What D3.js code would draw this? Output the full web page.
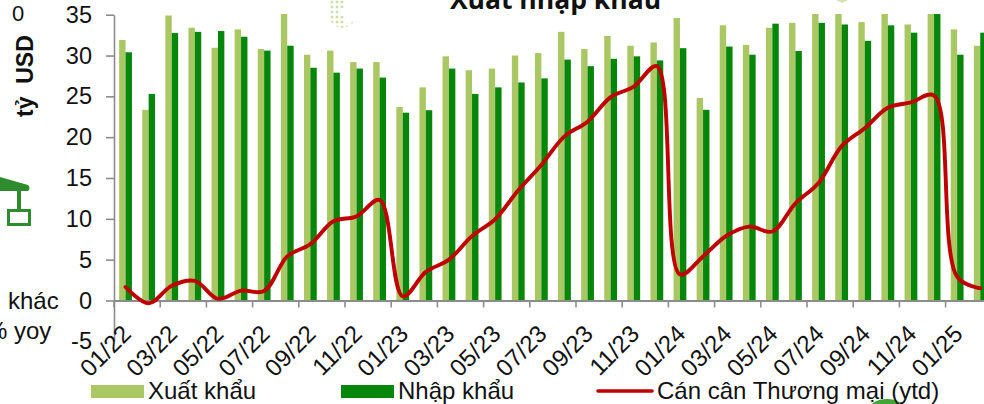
<!DOCTYPE html>
<html><head><meta charset="utf-8">
<script src="https://cdn.jsdelivr.net/npm/d3@7"></script>
<style>
html,body{margin:0;padding:0;background:#fff;overflow:hidden}
svg{display:block}
text{font-family:"Liberation Sans",Arial,sans-serif;fill:#111}
</style></head><body>
<svg id="c" width="984" height="404"></svg>
<script>
const categories=["01/22","02/22","03/22","04/22","05/22","06/22","07/22","08/22","09/22","10/22","11/22","12/22",
"01/23","02/23","03/23","04/23","05/23","06/23","07/23","08/23","09/23","10/23","11/23","12/23",
"01/24","02/24","03/24","04/24","05/24","06/24","07/24","08/24","09/24","10/24","11/24","12/24",
"01/25","02/25"];
const xuatKhau=[31.9,23.35,34.9,33.4,30.95,33.2,30.8,35.3,30.1,30.6,29.2,29.2,
23.7,26.1,29.9,28.2,28.4,30,30.3,32.9,30.8,32.4,31.2,31.6,
34.6,24.8,33.7,31.3,33.4,34,35.3,35.3,34.1,35.3,33.8,35.3,33.2,31.2];
const nhapKhau=[30.4,25.3,32.75,32.9,33,32.3,30.6,31.2,28.5,27.9,28.4,27.3,
23,23.3,28.4,25.3,26.1,26.7,27.2,29.5,28.7,29.6,29.9,29.4,
30.9,23.35,31.1,30.1,33.9,30.55,34,33.8,31.8,33.7,32.8,35.3,30.1,32.8];
const canCan=[1.65,-0.35,1.8,2.4,0.2,1.2,1.15,5.4,6.9,9.7,10.3,12.3,
0.5,3.5,5,7.9,9.95,13.5,16.6,20.1,21.9,24.9,26.2,28.7,
3.2,5.4,7.9,9.05,8.45,11.9,14.4,18.9,21.1,23.6,24.25,25.1,
2.9,1.5];
const yTicks=[-5,0,5,10,15,20,25,30,35];
const legendNames=["Xuất khẩu","Nhập khẩu","Cán cân Thương mại (ytd)"];
const colLight="#A9C763",colDark="#06860A",colRed="#C00000",colAxis="#8C8C8C";

const svg=d3.select("#c");
const x=d3.scaleBand().domain(categories).range([114,114+23.1*categories.length]);
const y=d3.scaleLinear().domain([-5,35]).range([341.3,14.7]);
const barW=6.4;

const defs=svg.append("defs");
defs.append("clipPath").attr("id","plot").append("rect").attr("x",114).attr("y",14).attr("width",870).attr("height",340);
const pat=defs.append("pattern").attr("id","dots").attr("width",5).attr("height",5).attr("patternUnits","userSpaceOnUse");
pat.append("rect").attr("x",0.7).attr("y",0.7).attr("width",2.6).attr("height",2.6).attr("fill","#CFDDA8");

// decorations cropped from the surrounding slide
svg.append("path").attr("d","M329 0H345V8H341V16H345V24L358 21L344 28L334 26L329 18Z").attr("fill","url(#dots)");
svg.append("path").attr("d","M836 0H848L842 3Z").attr("fill","#D4E0B5");
svg.append("path").attr("d","M0 177L28 185Q31 188 28 191H0Z").attr("fill","#2E8B2E");
svg.append("rect").attr("x",17).attr("y",190).attr("width",4).attr("height",20).attr("fill","#2E8B2E");
svg.append("rect").attr("x",8.5).attr("y",210.5).attr("width",21).attr("height",14).attr("fill","#fff").attr("stroke","#2E8B2E").attr("stroke-width",3);
svg.append("ellipse").attr("cx",887).attr("cy",410).attr("rx",18).attr("ry",11).attr("fill","#3FA535");

const plot=svg.append("g").attr("clip-path","url(#plot)");
plot.append("g").selectAll("rect").data(categories).join("rect")
  .attr("x",d=>x(d)+x.bandwidth()/2-barW).attr("width",barW)
  .attr("y",(d,i)=>y(xuatKhau[i])).attr("height",(d,i)=>y(0)-y(xuatKhau[i]))
  .attr("fill",colLight);
plot.append("g").selectAll("rect").data(categories).join("rect")
  .attr("x",d=>x(d)+x.bandwidth()/2).attr("width",barW)
  .attr("y",(d,i)=>y(nhapKhau[i])).attr("height",(d,i)=>y(0)-y(nhapKhau[i]))
  .attr("fill",colDark);

// axes
const gy=svg.append("g").attr("transform","translate(114,0)")
  .call(d3.axisLeft(y).tickValues(yTicks).tickFormat(String).tickSize(8).tickPadding(14).tickSizeOuter(0));
gy.selectAll("path,line").attr("stroke",colAxis).attr("stroke-width",1.6);
gy.selectAll("text").attr("font-size",23.5).attr("fill","#111").style("font-family",'"Liberation Sans"');
gy.select(".tick:first-of-type line").remove();

const evenCats=categories.filter((d,i)=>i%2===0);
const gx=svg.append("g").attr("transform",`translate(0,${y(0)})`);
gx.call(d3.axisBottom(x).tickValues(evenCats).tickSize(0).tickSizeOuter(0));
gx.select("path").attr("stroke",colAxis).attr("stroke-width",1.8);
gx.selectAll(".tick text")
  .attr("font-size",24).attr("fill","#111").attr("text-anchor","end")
  .attr("transform","translate(1,29) rotate(-45)").attr("x",0).attr("y",0).attr("dy","0.35em")
  .style("font-family",'"Liberation Sans"');
gx.selectAll(".tick").append("line")
  .attr("x1",-x.bandwidth()/2).attr("x2",-x.bandwidth()/2).attr("y1",0).attr("y2",7)
  .attr("stroke",colAxis).attr("stroke-width",1.6);

// line
const line=d3.line().x((d,i)=>x(categories[i])+x.bandwidth()/2).y(d=>y(d)).curve(d3.curveCatmullRom.alpha(0.5));
svg.append("path").datum(canCan).attr("d",line).attr("fill","none").attr("stroke",colRed)
  .attr("stroke-width",3.9).attr("stroke-linecap","round").attr("stroke-linejoin","round");

// clipped title and side labels
svg.append("text").attr("x",555.5).attr("y",9).attr("text-anchor","middle")
  .attr("font-size",26.5).attr("font-weight",700).style("font-family",'"Open Sans"').text("Xuất nhập khẩu");
svg.append("text").attr("x",12).attr("y",21).attr("font-size",22).text("0");
svg.append("text").attr("transform","translate(33,117) rotate(-90)").attr("font-size",23).attr("font-weight",700)
  .attr("xml:space","preserve").style("white-space","pre").text("tỷ  USD");
svg.append("text").attr("x",8).attr("y",309).attr("font-size",24).text("khác");
svg.append("text").attr("x",-14).attr("y",339).attr("font-size",24).text("% yoy");

// legend
const legendX=[91,341,598];
const lg=svg.append("g");
lg.append("rect").attr("x",legendX[0]).attr("y",385).attr("width",53).attr("height",13).attr("fill",colLight);
lg.append("rect").attr("x",legendX[1]).attr("y",385).attr("width",53).attr("height",13).attr("fill",colDark);
lg.append("line").attr("x1",legendX[2]).attr("x2",legendX[2]+54).attr("y1",391).attr("y2",391)
  .attr("stroke",colRed).attr("stroke-width",3.6).attr("stroke-linecap","round");
lg.selectAll("text").data(legendNames).join("text")
  .attr("x",(d,i)=>legendX[i]+[57,57,59][i]).attr("y",399).attr("font-size",24).text(d=>d);
</script>
</body></html>
